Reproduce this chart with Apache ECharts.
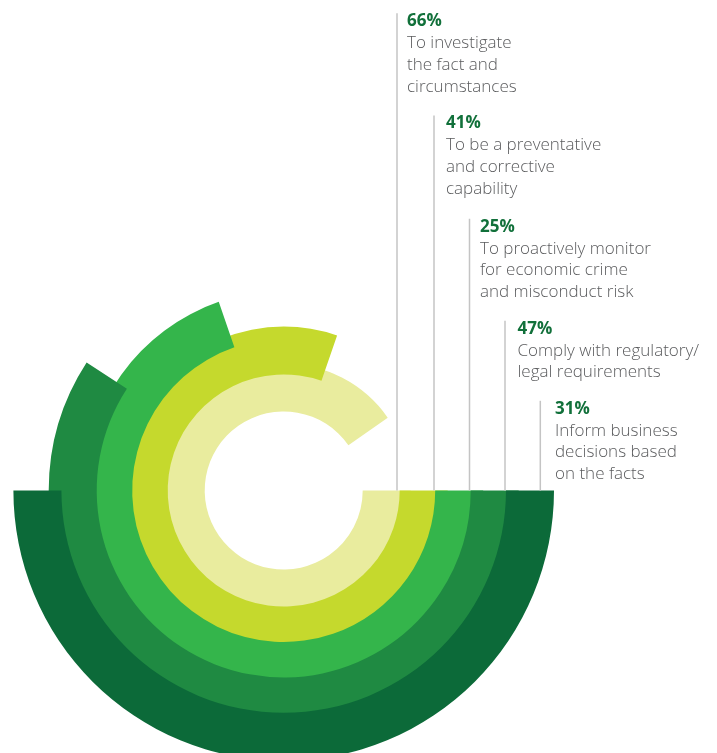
<!DOCTYPE html>
<html>
<head>
<meta charset="utf-8">
<title>Purposes of forensic investigation</title>
<script src="https://cdn.jsdelivr.net/npm/echarts@6/dist/echarts.min.js"></script>
<style>
  html, body { margin: 0; padding: 0; background: #ffffff; }
  #chart { width: 717px; height: 753px; }
</style>
</head>
<body>
<div id="chart"></div>
<script>
// Stated purposes, from the innermost ring outwards
const purposes = [
  ['To investigate', 'the fact and', 'circumstances'],
  ['To be a preventative', 'and corrective', 'capability'],
  ['To proactively monitor', 'for economic crime', 'and misconduct risk'],
  ['Comply with regulatory/', 'legal requirements'],
  ['Inform business', 'decisions based', 'on the facts']
];
// Share of respondents for each purpose (%)
const shares = [66, 41, 25, 47, 31];
// Sweep of each decorative ring, in degrees, clockwise from 3 o'clock
const ringSweepDeg = [325, 289, 251, 213, 180];

const ringColors = ['#E9EC9E', '#C5D92D', '#34B54B', '#1F8A42', '#0C6A39'];

// Layout
const CX = 283.7, CY = 490.5;
const ringInner = [79, 116, 151.5, 187, 222.3];
const RING_THICK = 48;
const labelX = [407, 446, 480, 517.5, 555];
const labelTop = [10.5, 112.7, 216, 318, 398];
const LINE_H = 21.8;

const chart = echarts.init(document.getElementById('chart'), null, { renderer: 'canvas' });

const polar = [], angleAxis = [], radiusAxis = [], series = [];
ringSweepDeg.forEach((sweep, i) => {
  polar.push({ center: [CX, CY], radius: [ringInner[i], ringInner[i] + RING_THICK] });
  angleAxis.push({
    polarIndex: i, type: 'value', min: 0, max: 360, startAngle: 0, clockwise: true,
    show: false, axisLine: { show: false }, splitLine: { show: false },
    axisTick: { show: false }, axisLabel: { show: false }
  });
  radiusAxis.push({
    polarIndex: i, type: 'category', data: [purposes[i].join(' ')],
    show: false, axisLine: { show: false }, splitLine: { show: false },
    axisTick: { show: false }, axisLabel: { show: false }
  });
  series.push({
    type: 'bar', coordinateSystem: 'polar', polarIndex: i,
    data: [sweep], barWidth: '100%', barCategoryGap: '0%',
    itemStyle: { color: ringColors[i] }, silent: true, z: 2 + i
  });
});

// Leader lines and text for each purpose
const graphics = [];
shares.forEach((v, i) => {
  const lx = CX + ringInner[i] + 34.3;
  graphics.push({
    type: 'line', silent: true, z: 20,
    shape: { x1: lx, y1: labelTop[i] + 2.8, x2: lx, y2: CY },
    style: { stroke: '#C4C4C4', lineWidth: 1.5 }
  });
  const text = '{p|' + v + '%}\n' + purposes[i].map(s => '{t|' + s + '}').join('\n');
  graphics.push({
    type: 'text', silent: true, z: 20,
    x: labelX[i], y: labelTop[i],
    style: {
      text: text,
      verticalAlign: 'top',
      rich: {
        p: { fontFamily: '"Open Sans", sans-serif', fontWeight: 'bold', fontSize: 17, lineHeight: LINE_H, fill: '#11703A' },
        t: { fontFamily: '"Open Sans", sans-serif', fontWeight: 300, fontSize: 17, lineHeight: LINE_H, fill: '#5A5B5D' }
      }
    }
  });
});

chart.setOption({
  animation: false,
  backgroundColor: '#ffffff',
  polar: polar,
  angleAxis: angleAxis,
  radiusAxis: radiusAxis,
  series: series,
  graphic: { elements: graphics }
});
</script>
</body>
</html>
